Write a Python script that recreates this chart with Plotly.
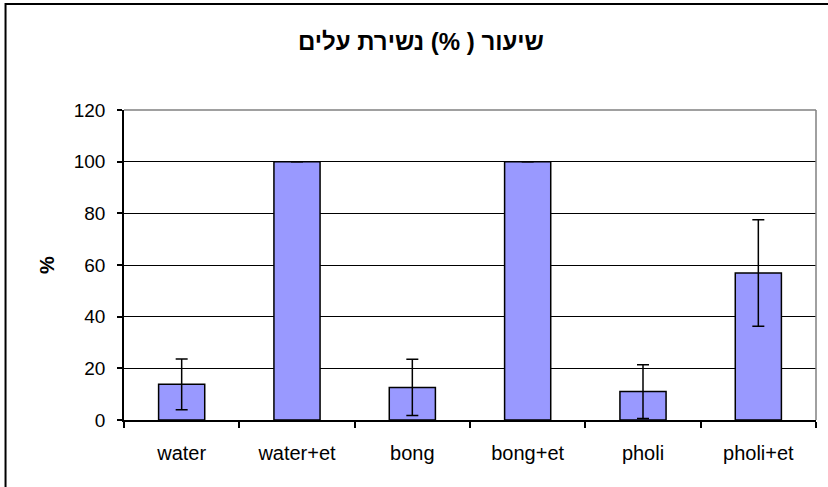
import plotly.graph_objects as go

categories = ["water", "water+et", "bong", "bong+et", "pholi", "pholi+et"]
values = [13.8, 100, 12.6, 100, 11.0, 56.9]
errors = [9.8, None, 10.9, None, 10.4, 20.6]
y_ticks = [0, 20, 40, 60, 80, 100, 120]
title_text = "שיעור ( %) נשירת עלים"
y_title = "%"

FONT = "Arial, 'Liberation Sans', sans-serif"

fig = go.Figure()
fig.add_trace(go.Bar(
    x=categories, y=values,
    marker=dict(color="#9999FF", line=dict(color="black", width=1.5)),
    width=0.4,
    error_y=dict(type="data", array=errors, visible=True, color="black", thickness=1.5, width=6),
))

W, H = 828, 487
L, R, T, B = 123.5, 12.3, 110, 67
pw, ph = W - L - R, H - T - B

def px_x(p):
    return (p - L) / pw

def px_y(p):
    return (H - B - p) / ph

fig.update_layout(
    width=W, height=H,
    margin=dict(l=L, r=R, t=T, b=B),
    paper_bgcolor="white", plot_bgcolor="white",
    showlegend=False,
    title=dict(text=f"<b>{title_text}</b>", x=421 / W, xanchor="center", xref="container",
               y=1 - 42 / H, yanchor="middle", yref="container",
               font=dict(family=FONT, size=24, color="black")),
    font=dict(family=FONT, size=19, color="black"),
    xaxis=dict(
        type="category", showline=True, linecolor="black", linewidth=1.5,
        ticks="outside", tickson="boundaries", ticklen=6, tickcolor="black", tickwidth=1.5,
        showgrid=False, tickfont=dict(size=20, family=FONT), ticklabelstandoff=14,
    ),
    yaxis=dict(
        range=[0, 120], tickvals=y_ticks, showline=True, linecolor="black", linewidth=1.5,
        ticks="outside", ticklen=5, tickcolor="black", tickwidth=1.5,
        showgrid=True, gridcolor="black", gridwidth=1.2, zeroline=False,
        tickfont=dict(size=19, family=FONT), ticklabelstandoff=8,
        title=dict(text=f"<b>{y_title}</b>", font=dict(size=20, family=FONT), standoff=14),
    ),
    shapes=[
        dict(type="line", xref="paper", yref="paper", x0=0, x1=1, y0=1, y1=1,
             line=dict(color="#808080", width=1.5), layer="above"),
        dict(type="line", xref="paper", yref="paper", x0=1, x1=1, y0=0, y1=1,
             line=dict(color="#808080", width=1.5), layer="above"),
        dict(type="rect", xref="paper", yref="paper",
             x0=px_x(5), x1=px_x(840), y0=px_y(500), y1=px_y(4),
             line=dict(color="black", width=2), fillcolor="rgba(0,0,0,0)", layer="above"),
    ],
)

fig.write_html("out.html", config={"displayModeBar": False},
               post_script="document.body.style.margin='0';")
